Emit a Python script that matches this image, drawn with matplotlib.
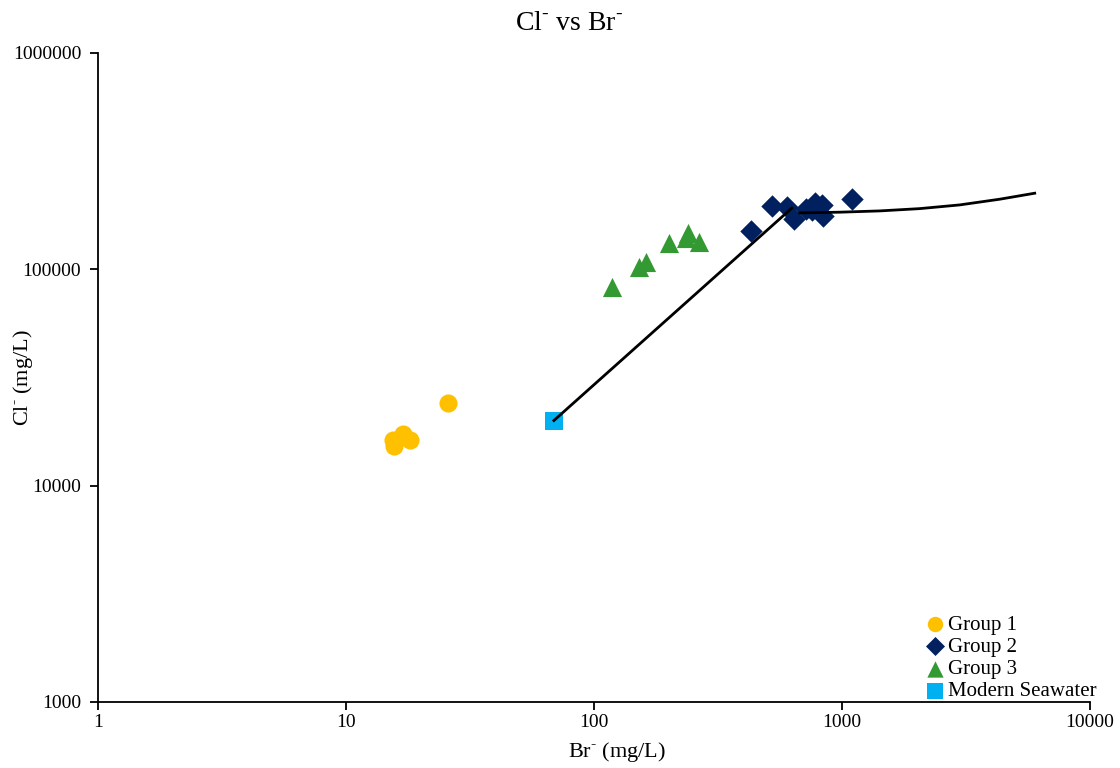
import matplotlib
matplotlib.use("Agg")
import matplotlib.pyplot as plt
from matplotlib.ticker import FixedLocator, FuncFormatter, NullLocator

plt.rcParams["font.family"] = ["Liberation Serif", "DejaVu Serif"]
plt.rcParams["mathtext.fontset"] = "custom"
plt.rcParams["mathtext.rm"] = "Liberation Serif"

# Group 1
g1_br = [25.8, 17.0, 18.1, 15.5, 15.6]
g1_cl = [24100, 17300, 16300, 16300, 15300]

# Group 2
g2_br = [430, 522, 600, 640, 716, 757, 778, 830, 838, 1097]
g2_cl = [150700, 196000, 194000, 171000, 190000, 188000, 203000, 199000, 177000, 211000]

# Group 3
g3_br = [118, 152, 162, 200, 239, 235, 265]
g3_cl = [83000, 102600, 108000, 132000, 147000, 140000, 134000]

# Modern seawater
sw_br = [69]
sw_cl = [20000]

# seawater evaporation path (to halite saturation, then beyond)
evap1_br = [69, 629]
evap1_cl = [20000, 192000]
evap2_br = [677, 982, 1423, 2063, 2991, 4335, 5998]
evap2_cl = [182300, 183700, 186200, 190800, 198500, 210900, 224800]

fig = plt.figure(figsize=(11.2, 7.68), dpi=100)
ax = fig.add_axes([0.0875, 0.086, 0.8855, 0.845])

ax.plot(evap1_br, evap1_cl, color="black", linewidth=2, zorder=4)
ax.plot(evap2_br, evap2_cl, color="black", linewidth=2, zorder=4,
        solid_joinstyle="round")

ax.scatter(g1_br, g1_cl, s=170, marker="o", color="#FFC000", linewidths=0,
           label="Group 1", zorder=3)
ax.scatter(g2_br, g2_cl, s=130, marker="D", color="#002060", linewidths=0,
           label="Group 2", zorder=3)
ax.scatter(g3_br, g3_cl, s=190, marker="^", color="#339933", linewidths=0,
           label="Group 3", zorder=3)
ax.scatter(sw_br, sw_cl, s=170, marker="s", color="#00B0F0", linewidths=0,
           label="Modern Seawater", zorder=3)

ax.set_xscale("log")
ax.set_yscale("log")
ax.set_xlim(1, 10000)
ax.set_ylim(1000, 1000000)
ax.xaxis.set_major_locator(FixedLocator([1, 10, 100, 1000, 10000]))
ax.yaxis.set_major_locator(FixedLocator([1000, 10000, 100000, 1000000]))
ax.xaxis.set_minor_locator(NullLocator())
ax.yaxis.set_minor_locator(NullLocator())
fmt = FuncFormatter(lambda v, p: "%d" % round(v))
ax.xaxis.set_major_formatter(fmt)
ax.yaxis.set_major_formatter(fmt)
ax.tick_params(labelsize=14, length=6, width=1.3, direction="out")
ax.tick_params(axis="y", pad=6)
ax.tick_params(axis="x", pad=2.5)

for s in ["top", "right"]:
    ax.spines[s].set_visible(False)
for s in ["left", "bottom"]:
    ax.spines[s].set_linewidth(1.3)

sup = "$^{\u2010}$"
ax.set_xlabel("Br" + sup + " (mg/L)", fontsize=16)
ax.xaxis.set_label_coords(0.523, -0.058)
ax.set_ylabel("Cl" + sup + " (mg/L)", fontsize=16)
ax.yaxis.set_label_coords(-0.064, 0.5)
fig.text(0.508, 0.97, "Cl" + sup + " vs Br" + sup, fontsize=20,
         ha="center", va="center")

ax.legend(loc="lower right", bbox_to_anchor=(1.02, -0.018), frameon=False,
          fontsize=15, handletextpad=0.05, labelspacing=0.12,
          borderaxespad=0.2, handlelength=1.2, markerscale=0.85)

fig.savefig("out.png", dpi=100)
